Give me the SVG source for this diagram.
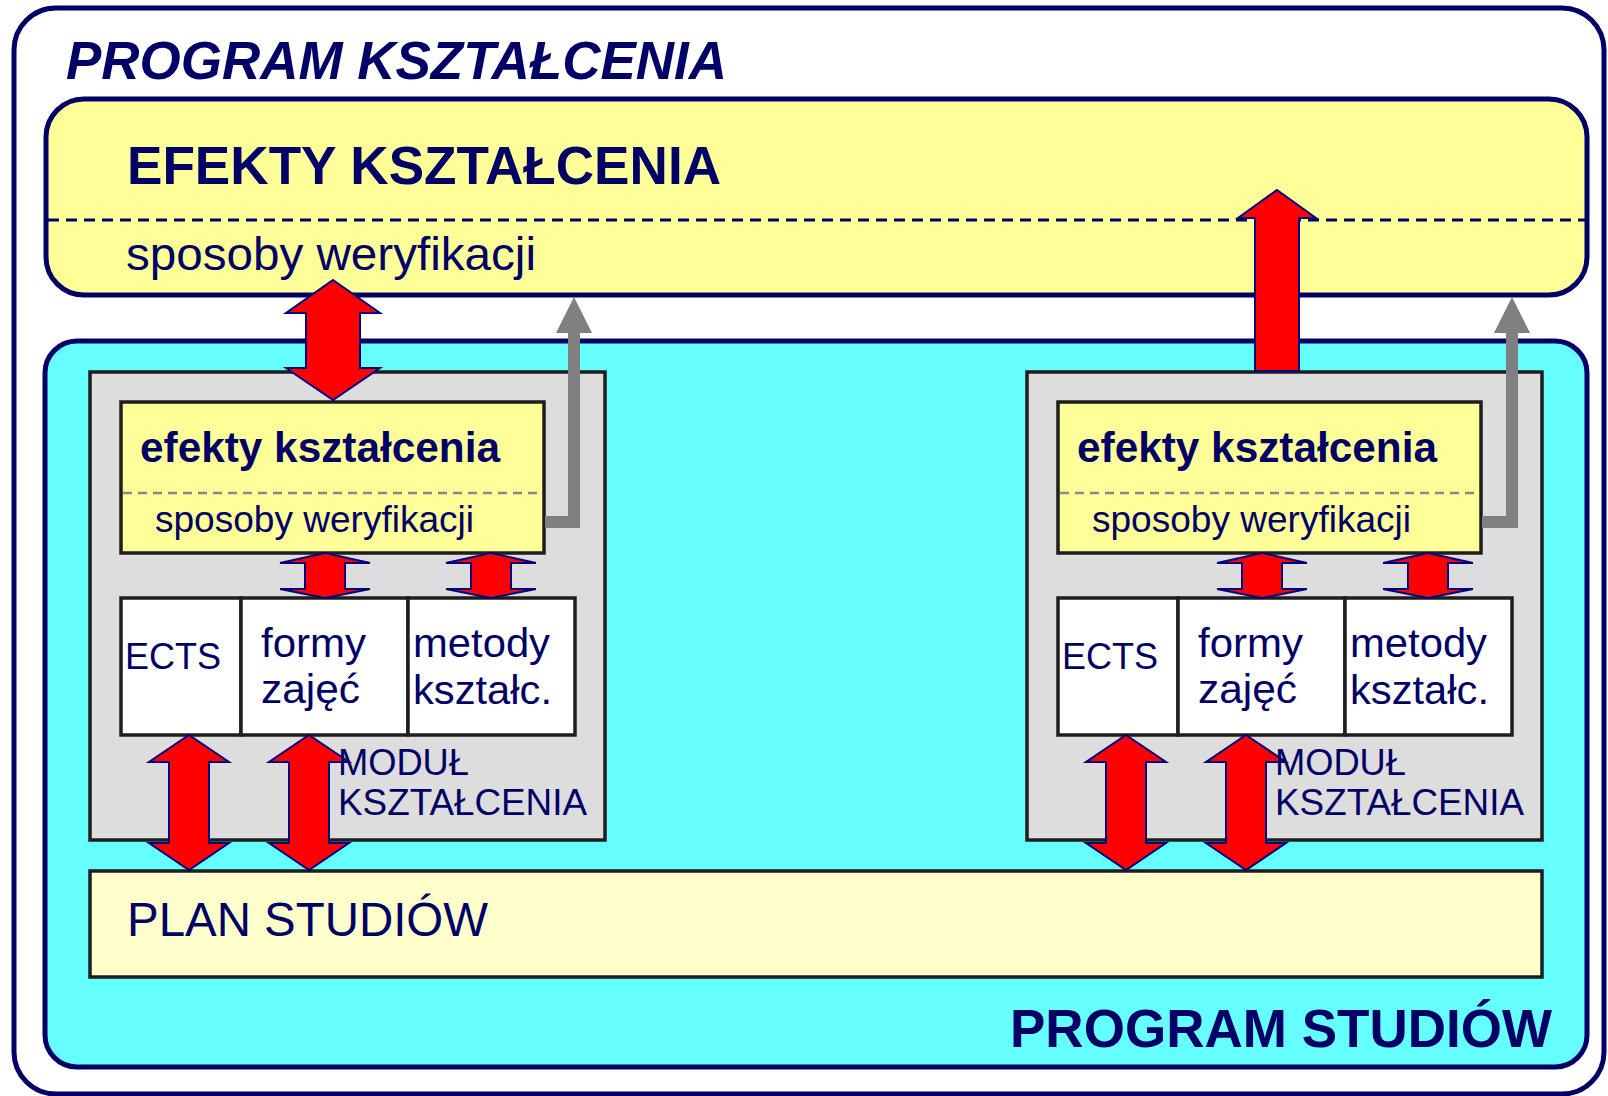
<svg xmlns="http://www.w3.org/2000/svg" xmlns:xlink="http://www.w3.org/1999/xlink" width="1608" height="1096" viewBox="0 0 1608 1096">
<style>
.t{font-family:"Liberation Sans",Arial,sans-serif;fill:#000066}
.b{font-weight:bold}
.navy{stroke:#000066;stroke-width:5}
.dk{stroke:#1e1e1e;stroke-width:3.5}
.red{fill:#FF0000;stroke:#000080;stroke-width:2;stroke-linejoin:miter}
.gl{fill:none;stroke:#808080;stroke-width:12}
.gh{fill:#808080}
</style>
<defs>
<path id="dblBig" d="M0,280 L47,313 L27,313 L27,368 L47,368 L0,400 L-47,368 L-27,368 L-27,313 L-47,313 Z"/>
<path id="dblSmall" d="M0,553 L45,563 L20,563 L20,589 L45,589 L0,598 L-45,589 L-20,589 L-20,563 L-45,563 Z"/>
<path id="dblLow" d="M0,735 L40,762 L20,762 L20,843 L40,843 L0,870 L-40,843 L-20,843 L-20,762 L-40,762 Z"/>
<path id="upBig" d="M0,190 L39,218 L22,218 L22,371 L-22,371 L-22,218 L-39,218 Z"/>
<path id="grayHead" d="M-18,333 L0,297 L18,333 Z"/>
</defs>

<g id="program-ksztalcenia">
<rect x="14" y="8" width="1590" height="1086" rx="42" ry="42" fill="#FFFFFF" class="navy"/>
<text class="t b" x="66" y="79" font-size="53" font-style="italic" textLength="661" lengthAdjust="spacingAndGlyphs">PROGRAM KSZTAŁCENIA</text>
</g>

<g id="efekty-ksztalcenia">
<rect x="46" y="99" width="1541" height="196" rx="38" ry="38" fill="#FFFF99" class="navy"/>
<line x1="48" y1="220" x2="1585" y2="220" stroke="#000066" stroke-width="3" stroke-dasharray="11 7"/>
<text class="t b" x="127" y="184" font-size="53" textLength="594" lengthAdjust="spacingAndGlyphs">EFEKTY KSZTAŁCENIA</text>
<text class="t" x="126" y="270" font-size="47" textLength="410" lengthAdjust="spacingAndGlyphs">sposoby weryfikacji</text>
</g>

<g id="program-studiow">
<rect x="45" y="341" width="1542" height="726" rx="32" ry="32" fill="#66FFFF" class="navy"/>
<text class="t b" x="1010" y="1047" font-size="53" textLength="542" lengthAdjust="spacingAndGlyphs">PROGRAM STUDIÓW</text>
</g>

<g id="modul-left">
<rect x="90" y="372" width="515" height="468" fill="#DDDDDD" class="dk"/>
<g id="modul-left-efekty">
<rect x="121" y="402" width="423" height="151" fill="#FFFF99" class="dk"/>
<line x1="123" y1="493" x2="542" y2="493" stroke="#888888" stroke-width="2.5" stroke-dasharray="9 6"/>
<text class="t b" x="140" y="462" font-size="43" textLength="360" lengthAdjust="spacingAndGlyphs">efekty kształcenia</text>
<text class="t" x="155" y="532" font-size="37" textLength="319" lengthAdjust="spacingAndGlyphs">sposoby weryfikacji</text>
</g>
<g id="modul-left-ects">
<rect x="121" y="598" width="120" height="137" fill="#FFFFFF" class="dk"/>
<text class="t" x="125" y="669" font-size="36" textLength="96" lengthAdjust="spacingAndGlyphs">ECTS</text>
</g>
<g id="modul-left-formy">
<rect x="241" y="598" width="167" height="137" fill="#FFFFFF" class="dk"/>
<text class="t" x="261" y="657" font-size="40" textLength="105" lengthAdjust="spacingAndGlyphs">formy</text>
<text class="t" x="261" y="703" font-size="40" textLength="99" lengthAdjust="spacingAndGlyphs">zajęć</text>
</g>
<g id="modul-left-metody">
<rect x="408" y="598" width="167" height="137" fill="#FFFFFF" class="dk"/>
<text class="t" x="413" y="657" font-size="40" textLength="137" lengthAdjust="spacingAndGlyphs">metody</text>
<text class="t" x="413" y="704" font-size="40" textLength="139" lengthAdjust="spacingAndGlyphs">kształc.</text>
</g>
</g>

<g id="modul-right">
<rect x="1027" y="372" width="515" height="468" fill="#DDDDDD" class="dk"/>
<g id="modul-right-efekty">
<rect x="1058" y="402" width="423" height="151" fill="#FFFF99" class="dk"/>
<line x1="1060" y1="493" x2="1479" y2="493" stroke="#888888" stroke-width="2.5" stroke-dasharray="9 6"/>
<text class="t b" x="1077" y="462" font-size="43" textLength="360" lengthAdjust="spacingAndGlyphs">efekty kształcenia</text>
<text class="t" x="1092" y="532" font-size="37" textLength="319" lengthAdjust="spacingAndGlyphs">sposoby weryfikacji</text>
</g>
<g id="modul-right-ects">
<rect x="1058" y="598" width="120" height="137" fill="#FFFFFF" class="dk"/>
<text class="t" x="1062" y="669" font-size="36" textLength="96" lengthAdjust="spacingAndGlyphs">ECTS</text>
</g>
<g id="modul-right-formy">
<rect x="1178" y="598" width="167" height="137" fill="#FFFFFF" class="dk"/>
<text class="t" x="1198" y="657" font-size="40" textLength="105" lengthAdjust="spacingAndGlyphs">formy</text>
<text class="t" x="1198" y="703" font-size="40" textLength="99" lengthAdjust="spacingAndGlyphs">zajęć</text>
</g>
<g id="modul-right-metody">
<rect x="1345" y="598" width="167" height="137" fill="#FFFFFF" class="dk"/>
<text class="t" x="1350" y="657" font-size="40" textLength="137" lengthAdjust="spacingAndGlyphs">metody</text>
<text class="t" x="1350" y="704" font-size="40" textLength="139" lengthAdjust="spacingAndGlyphs">kształc.</text>
</g>
</g>

<g id="plan-studiow">
<rect x="90" y="871" width="1452" height="106" fill="#FFFFCC" class="dk"/>
<text class="t" x="127" y="936" font-size="48" textLength="361" lengthAdjust="spacingAndGlyphs">PLAN STUDIÓW</text>
</g>

<g id="connectors">
<use xlink:href="#dblBig" class="red" transform="translate(333,0)"/>
<use xlink:href="#upBig" class="red" transform="translate(1277,0)"/>
<use xlink:href="#dblSmall" class="red" transform="translate(325,0)"/>
<use xlink:href="#dblSmall" class="red" transform="translate(491,0)"/>
<use xlink:href="#dblSmall" class="red" transform="translate(1262,0)"/>
<use xlink:href="#dblSmall" class="red" transform="translate(1428,0)"/>
<use xlink:href="#dblLow" class="red" transform="translate(189,0)"/>
<use xlink:href="#dblLow" class="red" transform="translate(309,0)"/>
<use xlink:href="#dblLow" class="red" transform="translate(1126,0)"/>
<use xlink:href="#dblLow" class="red" transform="translate(1246,0)"/>
<polyline class="gl" points="545,522 574,522 574,330"/>
<use xlink:href="#grayHead" class="gh" transform="translate(574,0)"/>
<polyline class="gl" points="1482,522 1512,522 1512,330"/>
<use xlink:href="#grayHead" class="gh" transform="translate(1512,0)"/>
</g>

<g id="modul-left-label">
<text class="t" x="338" y="775" font-size="36" textLength="131" lengthAdjust="spacingAndGlyphs">MODUŁ</text>
<text class="t" x="338" y="815" font-size="36" textLength="249" lengthAdjust="spacingAndGlyphs">KSZTAŁCENIA</text>
</g>
<g id="modul-right-label">
<text class="t" x="1275" y="775" font-size="36" textLength="131" lengthAdjust="spacingAndGlyphs">MODUŁ</text>
<text class="t" x="1275" y="815" font-size="36" textLength="249" lengthAdjust="spacingAndGlyphs">KSZTAŁCENIA</text>
</g>
</svg>
